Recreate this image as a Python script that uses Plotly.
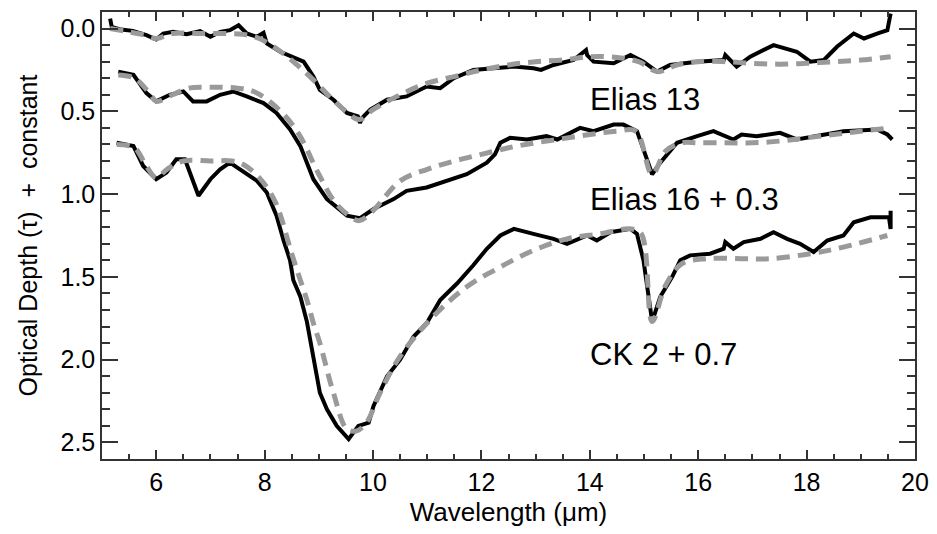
import plotly.graph_objects as go

# ---- data (wavelength in micron, optical depth + offset) ----
elias13_x = [5.15, 5.18, 5.35, 5.57, 5.82, 6.0, 6.13, 6.31, 6.56, 6.81, 7.0, 7.18, 7.36, 7.52, 7.67, 7.86,
             7.98, 8.04, 8.29, 8.53, 8.72, 8.9, 9.02, 9.27, 9.52, 9.72, 9.76, 9.8, 9.95, 10.26, 10.62,
             10.99, 11.24, 11.49, 11.85, 12.22, 12.6, 12.96, 13.1, 13.33, 13.7, 13.93, 13.95, 14.07,
             14.44, 14.75, 14.99, 15.24, 15.48, 15.98, 16.47, 16.5, 16.71, 16.96, 17.39, 17.82, 18.07,
             18.32, 18.56, 18.87, 19.06, 19.3, 19.49, 19.55]
elias13_y = [-0.06, -0.01, 0.006, 0.014, 0.04, 0.066, 0.03, 0.02, 0.034, 0.016, 0.05, 0.02, 0.01, -0.02,
             0.03, 0.05, 0.026, 0.09, 0.14, 0.17, 0.2, 0.29, 0.37, 0.43, 0.51, 0.53, 0.57, 0.54, 0.49,
             0.43, 0.41, 0.35, 0.36, 0.30, 0.25, 0.24, 0.23, 0.24, 0.25, 0.22, 0.19, 0.13, 0.16, 0.2,
             0.21, 0.16, 0.2, 0.26, 0.22, 0.2, 0.19, 0.16, 0.23, 0.17, 0.10, 0.14, 0.2, 0.19, 0.11,
             0.03, 0.06, 0.03, 0.01, -0.09]
elias13_model_x = [5.15, 5.5, 5.8, 6.0, 6.3, 6.8, 7.3, 7.6, 7.9, 8.3, 8.6, 8.9, 9.2, 9.5, 9.75, 10.0,
                   10.5, 11.0, 11.5, 12.0, 12.5, 13.0, 13.5, 14.0, 14.5, 14.9, 15.25, 15.6, 16.0, 16.5,
                   17.0, 17.5, 18.0, 18.5, 19.0, 19.55]
elias13_model_y = [0.0, 0.02, 0.04, 0.06, 0.03, 0.03, 0.03, 0.035, 0.06, 0.14, 0.22, 0.31, 0.41, 0.50,
                   0.55, 0.49, 0.40, 0.33, 0.29, 0.25, 0.22, 0.20, 0.19, 0.17, 0.175, 0.20, 0.26, 0.22,
                   0.20, 0.20, 0.21, 0.215, 0.21, 0.20, 0.19, 0.17]

elias16_x = [5.3, 5.58, 5.82, 6.0, 6.25, 6.5, 6.68, 6.93, 7.18, 7.42, 7.67, 7.98, 8.22, 8.47, 8.66,
             8.9, 9.15, 9.52, 9.76, 10.01, 10.38, 10.62, 10.99, 11.36, 11.73, 12.1, 12.25, 12.35, 12.53,
             12.84, 13.2, 13.4, 13.82, 14.07, 14.44, 14.62, 14.87, 14.99, 15.15, 15.3, 15.61, 15.98,
             16.28, 16.65, 16.8, 17.08, 17.51, 17.82, 18.19, 18.68, 19.3, 19.49, 19.58]
elias16_y = [0.26, 0.28, 0.39, 0.44, 0.40, 0.38, 0.44, 0.44, 0.40, 0.38, 0.41, 0.45, 0.51, 0.61, 0.71,
             0.91, 1.03, 1.13, 1.145, 1.09, 1.03, 0.98, 0.96, 0.92, 0.88, 0.81, 0.76, 0.69, 0.66, 0.67,
             0.65, 0.67, 0.60, 0.62, 0.58, 0.58, 0.62, 0.73, 0.88, 0.81, 0.69, 0.65, 0.62, 0.67, 0.64,
             0.65, 0.63, 0.67, 0.65, 0.62, 0.61, 0.64, 0.67]
elias16_model_x = [5.3, 5.6, 5.9, 6.0, 6.3, 6.6, 7.0, 7.5, 7.8, 8.2, 8.6, 9.0, 9.3, 9.6, 9.75, 10.0,
                   10.5, 11.0, 11.5, 12.0, 12.5, 13.0, 13.5, 14.0, 14.5, 14.85, 15.15, 15.4, 15.7,
                   16.0, 16.5, 17.0, 17.5, 18.0, 18.5, 19.0, 19.55]
elias16_model_y = [0.28, 0.30, 0.40, 0.44, 0.40, 0.36, 0.355, 0.36, 0.38, 0.47, 0.62, 0.88, 1.05,
                   1.14, 1.16, 1.10, 0.92, 0.85, 0.80, 0.76, 0.72, 0.69, 0.665, 0.64, 0.62, 0.62,
                   0.88, 0.74, 0.69, 0.69, 0.69, 0.69, 0.68, 0.66, 0.64, 0.62, 0.60]

ck2_x = [5.27, 5.58, 5.76, 6.0, 6.19, 6.37, 6.53, 6.78, 7.0, 7.18, 7.36, 7.55, 7.86, 8.04, 8.22, 8.35,
         8.47, 8.53, 8.66, 8.78, 8.9, 9.02, 9.15, 9.33, 9.55, 9.73, 9.92, 10.01, 10.26, 10.5, 10.75,
         10.99, 11.24, 11.55, 11.85, 12.1, 12.35, 12.6, 12.96, 13.33, 13.58, 13.95, 14.13, 14.38,
         14.75, 14.87, 14.99, 15.15, 15.3, 15.52, 15.67, 15.85, 16.22, 16.47, 16.5, 16.65, 16.84,
         17.15, 17.39, 17.64, 17.88, 18.13, 18.38, 18.68, 18.87, 19.18, 19.52, 19.55, 19.55]
ck2_y = [0.69, 0.71, 0.83, 0.91, 0.87, 0.79, 0.79, 1.01, 0.91, 0.85, 0.81, 0.85, 0.92, 0.99, 1.13,
         1.28, 1.40, 1.52, 1.62, 1.77, 1.98, 2.2, 2.30, 2.40, 2.48, 2.40, 2.38, 2.28, 2.10, 2.0, 1.86,
         1.78, 1.64, 1.54, 1.43, 1.33, 1.25, 1.21, 1.24, 1.27, 1.30, 1.25, 1.28, 1.23, 1.21, 1.24,
         1.40, 1.77, 1.62, 1.50, 1.40, 1.37, 1.36, 1.33, 1.29, 1.33, 1.29, 1.27, 1.23, 1.27, 1.30,
         1.35, 1.28, 1.25, 1.17, 1.14, 1.14, 1.21, 1.10]
ck2_model_x = [5.27, 5.6, 5.8, 6.0, 6.2, 6.5, 7.0, 7.4, 7.6, 7.9, 8.2, 8.5, 8.66, 8.8, 8.9, 9.02, 9.27,
               9.52, 9.7, 9.88, 10.13, 10.5, 11.11, 11.73, 12.35, 12.96, 13.58, 14.19, 14.75, 14.95,
               15.15, 15.4, 15.7, 16.16, 16.8, 17.33, 18.07, 18.68, 19.49]
ck2_model_y = [0.70, 0.72, 0.82, 0.90, 0.85, 0.80, 0.80, 0.80, 0.82, 0.90, 1.05, 1.36, 1.52, 1.66,
               1.78, 1.90, 2.2, 2.42, 2.43, 2.38, 2.2, 1.98, 1.74, 1.56, 1.44, 1.34, 1.27, 1.24, 1.21,
               1.24, 1.77, 1.55, 1.42, 1.39, 1.39, 1.39, 1.36, 1.32, 1.25]

labels = ["Elias 13", "Elias 16 + 0.3", "CK 2 + 0.7"]
label_x = [13.97, 13.97, 13.97]
label_y = [0.43, 1.03, 1.97]

FONT = "Liberation Sans, Arial, sans-serif"
fig = go.Figure()

obs = [(elias13_x, elias13_y), (elias16_x, elias16_y), (ck2_x, ck2_y)]
mods = [(elias13_model_x, elias13_model_y), (elias16_model_x, elias16_model_y), (ck2_model_x, ck2_model_y)]
for (ox, oy) in obs:
    fig.add_trace(go.Scatter(x=ox, y=oy, mode="lines", line=dict(color="black", width=4),
                             showlegend=False, hoverinfo="skip"))
for (mx, my) in mods:
    fig.add_trace(go.Scatter(x=mx, y=my, mode="lines", line_shape="spline",
                             line=dict(color="#9a9a9a", width=5, dash="13px,8px"),
                             showlegend=False, hoverinfo="skip"))

for t, lx, ly in zip(labels, label_x, label_y):
    fig.add_annotation(x=lx, y=ly, text=t, showarrow=False, xanchor="left", yanchor="middle",
                       font=dict(family=FONT, size=31, color="black"))

# the page body adds an 8px offset, so the figure is 8px smaller on each axis
fig.update_layout(
    width=929, height=526,
    margin=dict(l=94, r=22, t=4, b=75),
    paper_bgcolor="white", plot_bgcolor="white",
    font=dict(family=FONT, size=25, color="black"),
)
fig.update_xaxes(
    range=[5, 20], tickmode="linear", tick0=0, dtick=2, automargin=False,
    ticks="inside", ticklen=9, tickwidth=1.5, tickcolor="#333",
    minor=dict(ticks="inside", dtick=0.5, ticklen=5, tickwidth=1.5, tickcolor="#333", showgrid=False),
    showline=True, linecolor="#333", linewidth=1.5, mirror="ticks",
    showgrid=False, zeroline=False,
    title=dict(text="Wavelength (\u03bcm)", standoff=8, font=dict(size=26)),
    tickfont=dict(size=25),
)
fig.update_yaxes(
    range=[2.6, -0.1], tickmode="linear", tick0=0, dtick=0.5, tickformat=".1f", automargin=False,
    ticks="inside", ticklen=16, tickwidth=1.5, tickcolor="#333",
    minor=dict(ticks="inside", dtick=0.1, ticklen=8, tickwidth=1.5, tickcolor="#333", showgrid=False),
    showline=True, linecolor="#333", linewidth=1.5, mirror="ticks",
    showgrid=False, zeroline=False,
    title=dict(text="Optical Depth (\u03c4)  +  constant", standoff=16, font=dict(size=25)),
    tickfont=dict(size=25),
)

fig.write_html("out.html")
